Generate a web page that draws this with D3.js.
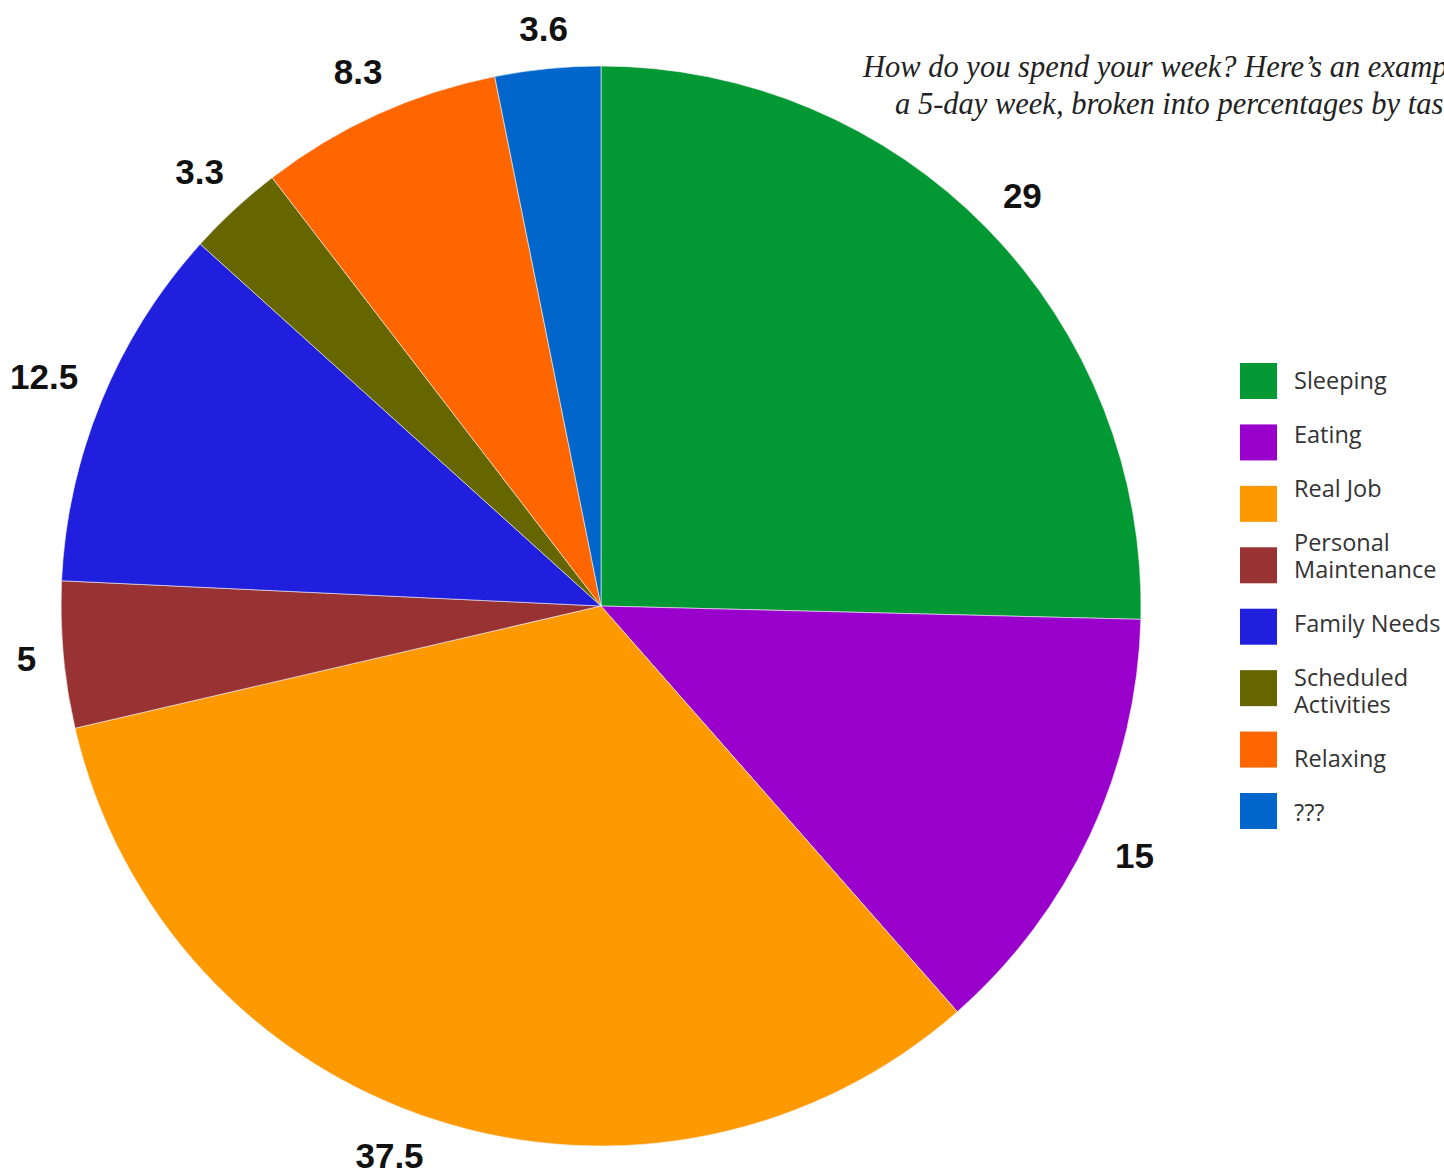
<!DOCTYPE html>
<html>
<head>
<meta charset="utf-8">
<script src="https://cdn.jsdelivr.net/npm/d3@7"></script>
<style>
  body { margin: 0; background: #fff; }
  svg { display: block; }
</style>
</head>
<body>
<div id="main"></div>
<script>
var categories = ['Sleeping', 'Eating', 'Real Job', 'Personal Maintenance', 'Family Needs', 'Scheduled Activities', 'Relaxing', '???'];
var values = [29, 15, 37.5, 5, 12.5, 3.3, 8.3, 3.6];
var valueLabels = ['29', '15', '37.5', '5', '12.5', '3.3', '8.3', '3.6'];
var legendLines = [['Sleeping'], ['Eating'], ['Real Job'], ['Personal', 'Maintenance'], ['Family Needs'], ['Scheduled', 'Activities'], ['Relaxing'], ['???']];
var colors = ['#029934', '#9900cc', '#ff9900', '#993333', '#1f1fdd', '#666600', '#ff6600', '#0066cc'];
var titleLines = ['How do you spend your week? Here\u2019s an example of', 'a 5-day week, broken into percentages by task.'];

var width = 1444,
    height = 1174,
    cx = 601,
    cy = 606,
    radius = 540,
    labelGap = 26;

var svg = d3.select("#main").append("svg")
    .attr("width", width)
    .attr("height", height);

var color = d3.scaleOrdinal()
  .domain(categories)
  .range(colors);

var pie = d3.pie()
  .sort(null)
  .value(function(d) { return d.value; });

var data = categories.map(function(c, i) {
  return { name: c, value: values[i], label: valueLabels[i] };
});

var arcs = pie(data);
var arc = d3.arc().innerRadius(0).outerRadius(radius);

var g = svg.append("g")
    .attr("transform", "translate(" + cx + "," + cy + ")");

g.selectAll(".slice")
  .data(arcs)
.enter().append("path")
  .attr("class", "slice")
  .attr("d", arc)
  .style("fill", function(d) { return color(d.data.name); })
  .style("stroke", "#f4f4f4")
  .style("stroke-width", 0.6);

var labels = g.selectAll(".value")
  .data(arcs)
.enter().append("text")
  .attr("class", "value")
  .attr("text-anchor", "middle")
  .attr("dy", "0.36em")
  .style("font-family", "'Liberation Sans', Arial, sans-serif")
  .style("font-weight", "bold")
  .style("font-size", "35px")
  .style("fill", "#111")
  .text(function(d) { return d.data.label; });

// push each label out until its box clears the rim, keep it on the page
labels.attr("transform", function(d) {
  var w = this.getComputedTextLength(), h = 25;
  var a = (d.startAngle + d.endAngle) / 2,
      ux = Math.sin(a), uy = -Math.cos(a);
  var dist = radius + labelGap + Math.abs(ux) * w / 2 + Math.abs(uy) * h / 2;
  var x = ux * dist, y = uy * dist;
  var maxY = height - cy - 19;
  if (y > maxY) {
    y = maxY;
    x = (ux < 0 ? -1 : 1) * Math.sqrt(dist * dist - y * y);
  }
  return "translate(" + x + "," + y + ")";
});

// title, cut off at the right edge like the original
var title = svg.append("g").attr("class", "title")
  .style("font-family", "'Liberation Serif', 'Times New Roman', serif")
  .style("font-style", "italic")
  .style("font-size", "30.5px")
  .style("fill", "#222");

title.selectAll("text")
  .data(titleLines)
.enter().append("text")
  .attr("x", function(d, i) { return i == 0 ? 863 : 895; })
  .attr("y", function(d, i) { return 77 + i * 37; })
  .text(function(d) { return d; });

// legend: swatches on a fixed step, text flows as lines with a blank line between entries
var legendY = d3.scalePoint()
  .domain(categories)
  .range([381, 811]);

svg.selectAll(".swatch")
  .data(categories)
.enter().append("rect")
  .attr("class", "swatch")
  .attr("x", 1240)
  .attr("y", function(d) { return legendY(d) - 18; })
  .attr("width", 37)
  .attr("height", 36)
  .style("fill", function(d) { return color(d); });

var lineH = 27, line = 0, legendText = [];
legendLines.forEach(function(lines) {
  lines.forEach(function(l) { legendText.push({ text: l, y: 381 + line * lineH }); line++; });
  line++;
});

svg.selectAll(".legend")
  .data(legendText)
.enter().append("text")
  .attr("class", "legend")
  .attr("x", 1294)
  .attr("y", function(d) { return d.y; })
  .attr("dy", "0.35em")
  .style("font-family", "'Open Sans', 'Noto Sans', sans-serif")
  .style("font-size", "23.5px")
  .style("fill", "#333")
  .text(function(d) { return d.text; });
</script>
</body>
</html>
